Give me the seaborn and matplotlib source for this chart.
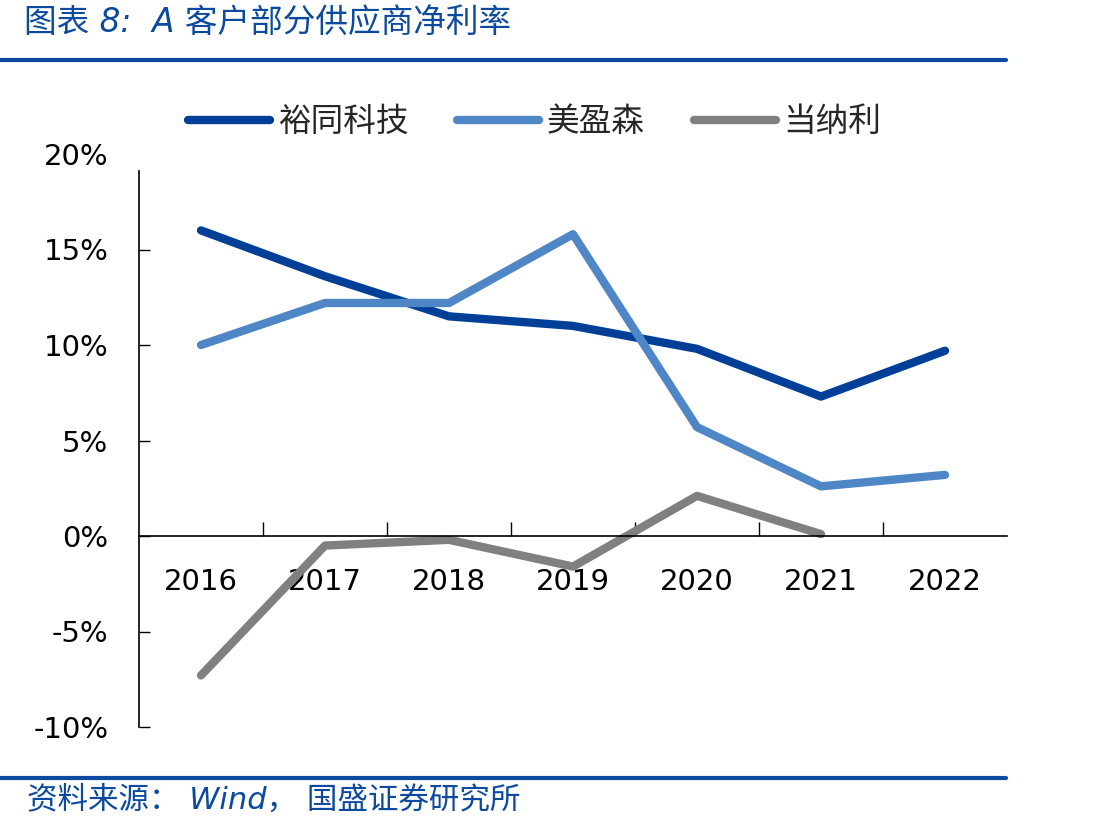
import numpy as np
import pandas as pd
import matplotlib
matplotlib.use("Agg")
import matplotlib.pyplot as plt
import seaborn as sns
from matplotlib.lines import Line2D

years = [2016, 2017, 2018, 2019, 2020, 2021, 2022]
yutong = [16.0, 13.6, 11.5, 11.0, 9.8, 7.3, 9.7]
meiyingsen = [10.0, 12.2, 12.2, 15.8, 5.7, 2.6, 3.2]
danali = [-7.3, -0.5, -0.2, -1.6, 2.1, 0.1, np.nan]
series_names = ["裕同科技", "美盈森", "当纳利"]
colors = ["#003F98", "#4F86C6", "#808080"]
yticks = [-10, -5, 0, 5, 10, 15, 20]
title = "图表 8:  A 客户部分供应商净利率"
source = "资料来源： Wind， 国盛证券研究所"

sns.set_theme(style="white")
plt.rcParams["font.family"] = ["DejaVu Sans", "Noto Sans CJK SC"]

df = pd.DataFrame({
    "year": years * 3,
    "value": yutong + meiyingsen + danali,
    "company": [series_names[0]] * 7 + [series_names[1]] * 7 + [series_names[2]] * 7,
})
df = df.dropna()

fig = plt.figure(figsize=(11.05, 8.31), dpi=100)
ax = fig.add_axes([139 / 1105, 1 - 727 / 831, (1007 - 139) / 1105, (727 - 154) / 831])

sns.lineplot(data=df, x="year", y="value", hue="company", hue_order=series_names,
             palette=colors, linewidth=6, ax=ax, legend=False,
             solid_capstyle="round", solid_joinstyle="round")

ax.set_xlim(2015.5, 2022.5)
ax.set_ylim(-10, 20)
ax.set_xlabel("")
ax.set_ylabel("")

for s in ["top", "right"]:
    ax.spines[s].set_visible(False)
ax.spines["bottom"].set_position(("data", 0))
ax.spines["bottom"].set_color("black")
ax.spines["bottom"].set_linewidth(1.2)
ax.spines["left"].set_color("black")
ax.spines["left"].set_linewidth(1.2)
ax.spines["left"].set_bounds(-10, 19.1)

ax.set_yticks(yticks)
ax.set_yticklabels([f"{v}%" for v in yticks], fontsize=21,
                   fontfamily=["DejaVu Sans"])
ax.tick_params(axis="y", direction="in", length=8, width=1, color="black",
               pad=22, labelcolor="black")
ax.yaxis.set_ticks_position("left")
ax.yaxis.get_major_ticks()[-1].tick1line.set_visible(False)

ax.set_xticks(years)
ax.set_xticklabels([str(y) for y in years], fontsize=21)
ax.tick_params(axis="x", which="major", length=0, pad=23, labelcolor="black")
ax.set_xticks([y + 0.5 for y in years[:-1]], minor=True)
ax.tick_params(axis="x", which="minor", direction="in", length=10, width=1,
               color="black")
ax.xaxis.set_ticks_position("bottom")
ax.grid(False)

# legend
handles = [Line2D([0], [0], color=c, linewidth=6, solid_capstyle="round")
           for c in colors]
leg = fig.legend(handles, series_names, loc="center", ncol=3,
                 bbox_to_anchor=(0.484, 1 - 122 / 831), frameon=False,
                 handlelength=2.5, columnspacing=1.5,
                 handletextpad=0.25,
                 prop={"family": ["Noto Sans CJK SC"], "size": 23.5})

# header / footer
blue = "#0B4A9E"
fig.text(0.022, 1 - 22 / 831, title, fontsize=23.5, color=blue, style="italic",
         va="center", ha="left", family=["DejaVu Sans", "Noto Sans CJK SC"])
fig.add_artist(Line2D([0, 1006 / 1105], [1 - 60 / 831] * 2, color=blue,
                      linewidth=3, transform=fig.transFigure))
fig.add_artist(Line2D([0, 1006 / 1105], [1 - 778 / 831] * 2, color=blue,
                      linewidth=3, transform=fig.transFigure))
fig.text(0.024, 1 - 800 / 831, source, fontsize=22, color=blue, style="italic",
         va="center", ha="left", family=["DejaVu Sans", "Noto Sans CJK SC"])

fig.savefig("out.png", dpi=100)
